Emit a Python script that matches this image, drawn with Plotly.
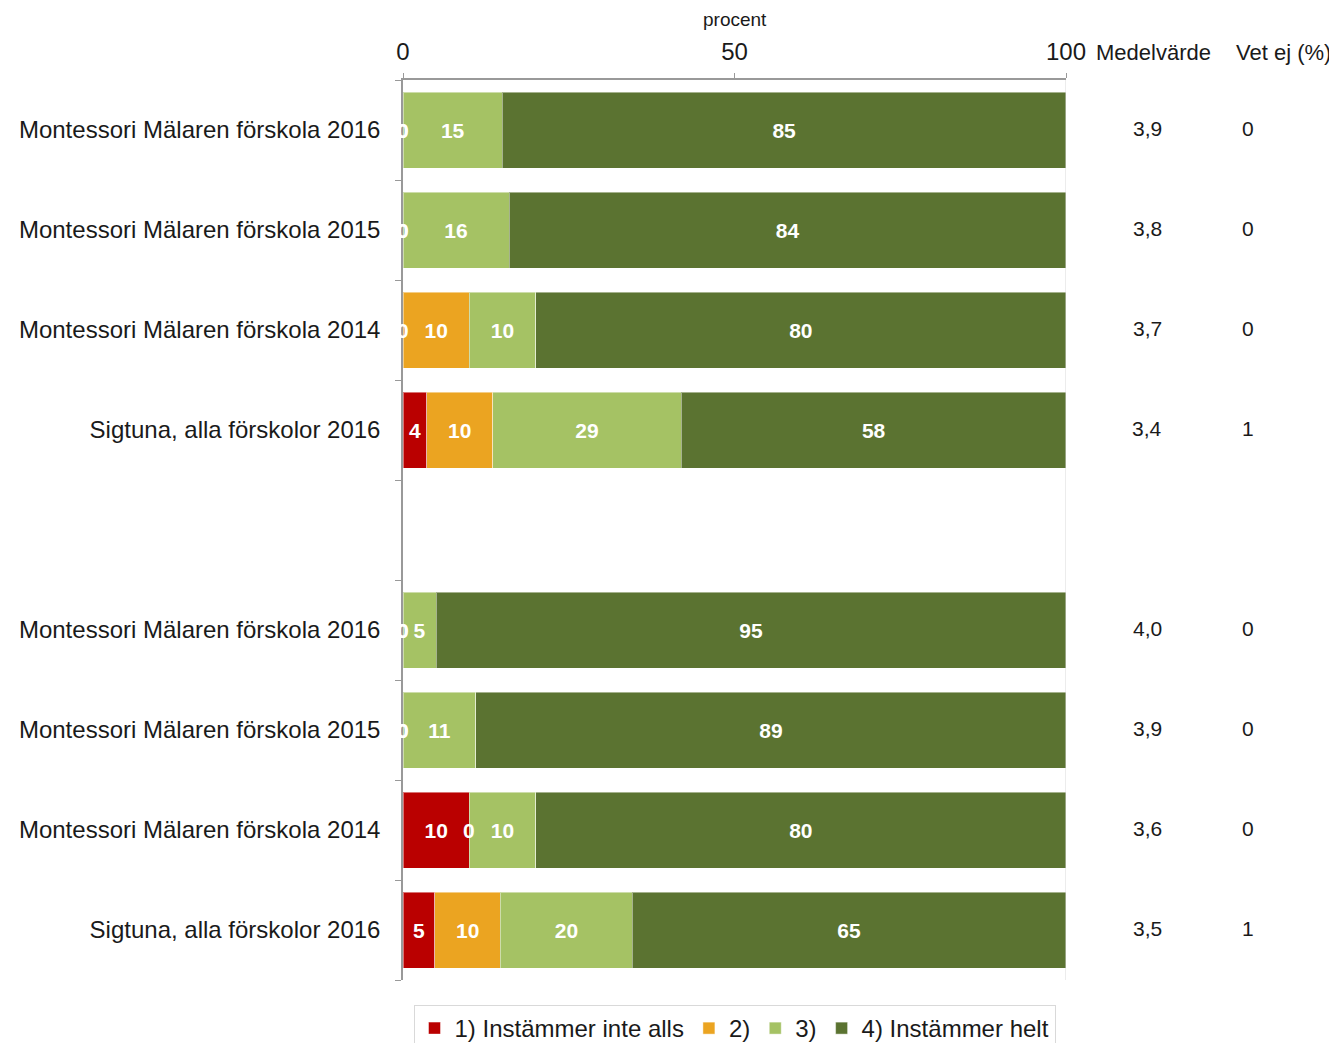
import plotly.graph_objects as go

categories = [
    "Montessori Mälaren förskola 2016",
    "Montessori Mälaren förskola 2015",
    "Montessori Mälaren förskola 2014",
    "Sigtuna, alla förskolor 2016",
    "",
    "Montessori Mälaren förskola 2016",
    "Montessori Mälaren förskola 2015",
    "Montessori Mälaren förskola 2014",
    "Sigtuna, alla förskolor 2016",
]
series_names = ["1) Instämmer inte alls", "2)", "3)", "4) Instämmer helt"]
s1 = [0, 0, 0, 3.6, None, 0, 0, 10, 4.8]
s2 = [0, 0, 10, 9.9, None, 0, 0, 0, 9.9]
s3 = [15, 16, 10, 28.5, None, 5, 11, 10, 19.9]
s4 = [85, 84, 80, 58.0, None, 95, 89, 80, 65.4]
medel = [3.9, 3.8, 3.7, 3.4, None, 4.0, 3.9, 3.6, 3.5]
vetej = [0, 0, 0, 1, None, 0, 0, 0, 1]
colors = ["#BA0000", "#EBA421", "#A5C264", "#5B7331"]

FONT = "Liberation Sans, Arial, sans-serif"
TXT = "#1a1a1a"
ys = list(range(len(categories)))
series = [s1, s2, s3, s4]

fig = go.Figure()
for name, vals, col in zip(series_names, series, colors):
    txt = ["" if (v is None or v == 0) else "<b>%d</b>" % int(v + 0.5) for v in vals]
    fig.add_trace(go.Bar(
        y=ys, x=vals, name=name, orientation="h", width=0.76,
        marker=dict(color=col, line=dict(color="rgba(255,255,255,0.45)", width=1)),
        text=txt, textposition="inside", insidetextanchor="middle", textangle=0,
        textfont=dict(family=FONT, size=21, color="white"),
        hoverinfo="skip",
    ))

annotations = []
# zero-value labels
for i in ys:
    cum = 0
    for vals in series:
        v = vals[i]
        if v is None:
            continue
        if v == 0:
            annotations.append(dict(x=cum, y=i, xref="x", yref="y", text="<b>0</b>",
                                    xanchor="center", yanchor="middle",
                                    showarrow=False, font=dict(family=FONT, size=21, color="white")))
        cum += v

for i in ys:
    if medel[i] is not None:
        annotations.append(dict(x=1.1222, y=i - 0.02, xref="paper", yref="y",
                                xanchor="center", yanchor="middle",
                                text=("%.1f" % medel[i]).replace(".", ","), showarrow=False,
                                font=dict(family=FONT, size=21, color=TXT)))
    if vetej[i] is not None:
        annotations.append(dict(x=1.2745, y=i - 0.02, xref="paper", yref="y",
                                xanchor="center", yanchor="middle",
                                text="%d" % vetej[i], showarrow=False,
                                font=dict(family=FONT, size=21, color=TXT)))

annotations.append(dict(x=1.1327, y=1.031, xref="paper", yref="paper", text="Medelvärde",
                        xanchor="center", yanchor="middle",
                        showarrow=False, font=dict(family=FONT, size=22, color=TXT)))
annotations.append(dict(x=1.3288, y=1.031, xref="paper", yref="paper", text="Vet ej (%)",
                        xanchor="center", yanchor="middle",
                        showarrow=False, font=dict(family=FONT, size=22, color=TXT)))
annotations.append(dict(x=0.5, y=1.0667, xref="paper", yref="paper", text="procent",
                        xanchor="center", yanchor="middle",
                        showarrow=False, font=dict(family=FONT, size=19, color=TXT)))

fig.update_layout(
    width=1337, height=1043,
    margin=dict(l=395, r=279, t=72, b=71, autoexpand=False),
    barmode="stack",
    plot_bgcolor="white", paper_bgcolor="white",
    font=dict(family=FONT, color=TXT),
    annotations=annotations,
    shapes=[dict(type="line", xref="x", yref="paper", x0=100, x1=100, y0=0, y1=1,
                 line=dict(color="#D9D9D9", width=1))],
    legend=dict(orientation="h", x=0.5, xanchor="center", y=-0.0278, yanchor="top",
                bordercolor="#D9D9D9", borderwidth=1, font=dict(family=FONT, size=24, color=TXT),
                traceorder="normal", itemwidth=30),
    xaxis=dict(side="top", range=[0, 100], tickvals=[0, 50, 100], showgrid=False,
               zeroline=False, showline=True, linecolor="#999999", linewidth=1.5,
               ticks="outside", ticklen=5, tickcolor="#999999", automargin=False,
               ticklabelstandoff=4,
               tickfont=dict(family=FONT, size=24, color=TXT)),
    yaxis=dict(range=[8.5, -0.5], tickvals=ys, ticktext=categories, showgrid=False,
               zeroline=False, showline=True, linecolor="#999999", linewidth=1.5,
               ticks="", ticklabelstandoff=16, automargin=False,
               tickfont=dict(family=FONT, size=24, color=TXT),
               minor=dict(tickvals=[i + 0.5 for i in range(-1, 9)], ticks="outside",
                          ticklen=6, tickcolor="#999999", showgrid=False)),
)
fig.write_html("out.html")
